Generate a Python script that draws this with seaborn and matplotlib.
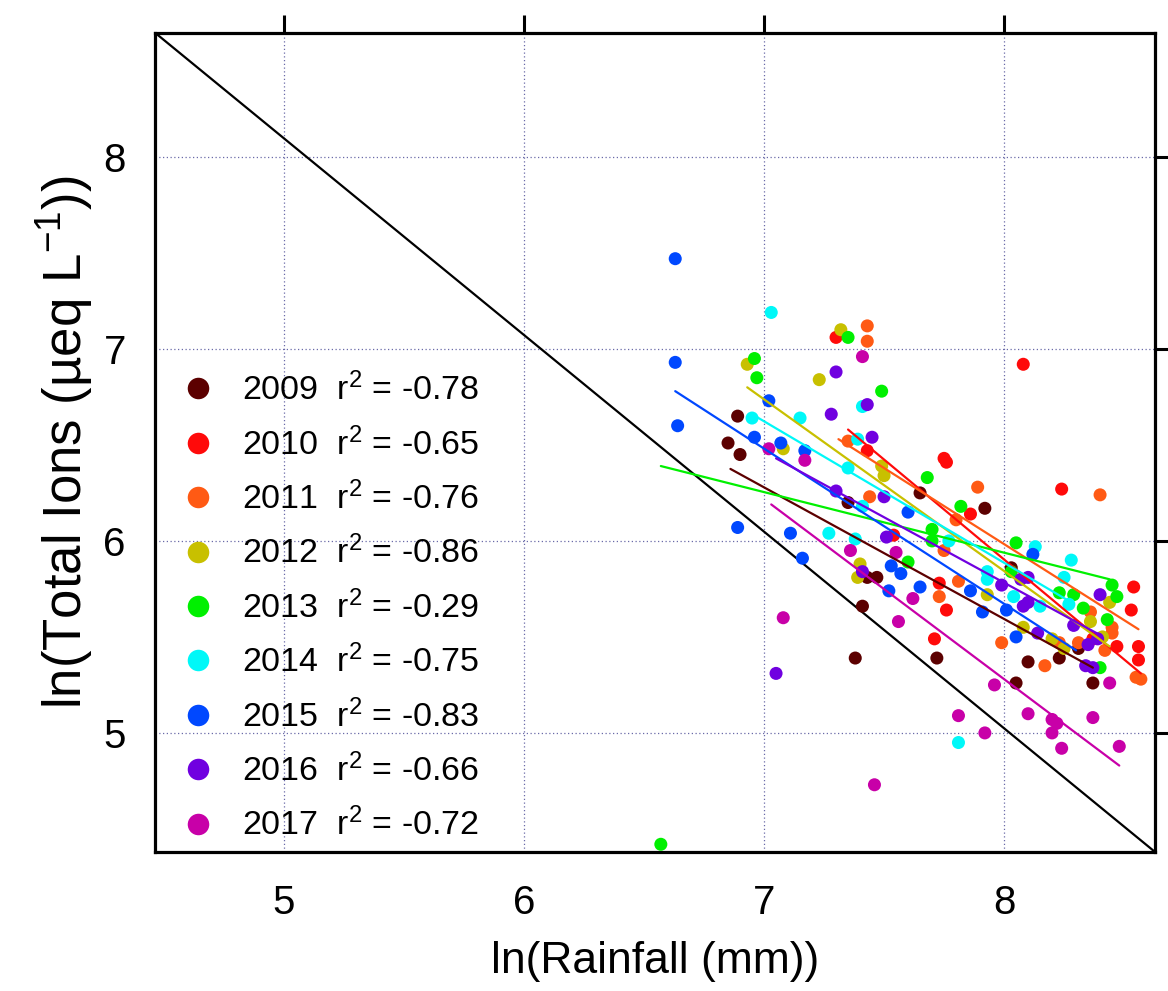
import matplotlib
matplotlib.use("Agg")
import matplotlib.pyplot as plt
import seaborn as sns
import pandas as pd
from matplotlib.lines import Line2D

# ---------------- data ----------------
years = ["2009", "2010", "2011", "2012", "2013", "2014", "2015", "2016", "2017"]
r_values = ["-0.78", "-0.65", "-0.76", "-0.86", "-0.29", "-0.75", "-0.83", "-0.66", "-0.72"]
colors = ["#5c0000", "#ff0a0a", "#ff5a14", "#c8c000", "#00f000", "#00f8f8", "#0048ff", "#7000e0", "#c800a8"]

x_2009 = [6.89, 6.85, 6.90, 7.35, 7.43, 7.47, 7.41, 7.38, 7.65, 7.92, 7.72, 8.05, 8.03, 8.10, 8.23, 8.31, 8.37]
y_2009 = [6.65, 6.51, 6.45, 6.20, 5.81, 5.81, 5.66, 5.39, 6.25, 6.17, 5.39, 5.26, 5.86, 5.37, 5.39, 5.44, 5.26]

x_2010 = [7.30, 7.43, 7.54, 7.75, 7.76, 8.08, 7.86, 8.24, 7.73, 7.76, 7.71, 8.37, 8.47, 8.54, 8.53, 8.56, 8.56]
y_2010 = [7.06, 6.47, 6.03, 6.43, 6.41, 6.92, 6.14, 6.27, 5.78, 5.64, 5.49, 5.49, 5.45, 5.76, 5.64, 5.45, 5.38]

x_2011 = [7.43, 7.43, 7.35, 7.44, 7.89, 8.40, 7.80, 7.75, 7.73, 7.81, 7.99, 8.23, 8.17, 8.36, 8.45, 8.45, 8.31, 8.42, 8.57, 8.55]
y_2011 = [7.12, 7.04, 6.52, 6.23, 6.28, 6.24, 6.11, 5.95, 5.71, 5.79, 5.47, 5.47, 5.35, 5.63, 5.55, 5.52, 5.47, 5.43, 5.28, 5.29]

x_2012 = [7.32, 6.93, 7.23, 7.08, 7.49, 7.50, 7.40, 7.39, 7.93, 8.08, 8.20, 8.25, 8.36, 8.41, 8.44]
y_2012 = [7.10, 6.92, 6.84, 6.48, 6.39, 6.34, 5.88, 5.81, 5.72, 5.55, 5.49, 5.44, 5.58, 5.50, 5.68]

x_2013 = [7.35, 6.96, 6.97, 7.49, 7.68, 7.82, 7.70, 7.70, 7.60, 8.05, 8.03, 8.23, 8.29, 8.33, 8.43, 8.40, 8.45, 8.47, 6.57]
y_2013 = [7.06, 6.95, 6.85, 6.78, 6.33, 6.18, 6.06, 6.00, 5.89, 5.99, 5.84, 5.73, 5.72, 5.65, 5.59, 5.34, 5.77, 5.71, 4.42]

x_2014 = [7.03, 7.41, 6.95, 7.15, 7.39, 7.35, 7.41, 7.27, 7.38, 7.77, 7.93, 7.93, 8.13, 8.04, 8.15, 8.28, 8.25, 8.27, 7.81]
y_2014 = [7.19, 6.70, 6.64, 6.64, 6.53, 6.38, 6.18, 6.04, 6.01, 6.00, 5.80, 5.84, 5.97, 5.71, 5.66, 5.90, 5.81, 5.67, 4.95]

x_2015 = [6.63, 6.63, 6.64, 7.02, 6.96, 7.07, 7.17, 6.89, 7.11, 7.16, 7.53, 7.52, 7.60, 7.57, 7.65, 7.86, 7.91, 8.05, 8.12, 8.01]
y_2015 = [7.47, 6.93, 6.60, 6.73, 6.54, 6.51, 6.47, 6.07, 6.04, 5.91, 5.87, 5.74, 6.15, 5.83, 5.76, 5.74, 5.63, 5.50, 5.93, 5.64]

x_2016 = [7.30, 7.43, 7.28, 7.45, 7.30, 7.50, 7.51, 7.41, 7.05, 7.99, 8.07, 8.10, 8.08, 8.10, 8.14, 8.29, 8.39, 8.35, 8.34, 8.37, 8.40]
y_2016 = [6.88, 6.71, 6.66, 6.54, 6.26, 6.23, 6.02, 5.84, 5.31, 5.77, 5.80, 5.81, 5.66, 5.68, 5.52, 5.56, 5.49, 5.46, 5.35, 5.34, 5.72]

x_2017 = [7.41, 7.02, 7.17, 7.36, 7.55, 7.08, 7.56, 7.62, 7.46, 7.96, 8.44, 7.81, 7.92, 8.10, 8.20, 8.22, 8.20, 8.24, 8.37, 8.48]
y_2017 = [6.96, 6.48, 6.42, 5.95, 5.94, 5.60, 5.58, 5.70, 4.73, 5.25, 5.26, 5.09, 5.00, 5.10, 5.07, 5.05, 5.00, 4.92, 5.08, 4.93]

# fitted line end points
fit_x0 = [6.86, 7.35, 7.31, 6.93, 6.57, 6.95, 6.63, 7.05, 7.03]
fit_y0 = [6.375, 6.58, 6.53, 6.80, 6.39, 6.66, 6.78, 6.43, 6.19]
fit_x1 = [8.37, 8.57, 8.56, 8.44, 8.44, 8.28, 8.30, 8.40, 8.48]
fit_y1 = [5.34, 5.31, 5.54, 5.45, 5.80, 5.68, 5.43, 5.51, 4.83]

x_ticks = [5, 6, 7, 8]
y_ticks = [5, 6, 7, 8]
x_limits = (4.4625, 8.629)
y_limits = (4.38, 8.647)

series_x = [x_2009, x_2010, x_2011, x_2012, x_2013, x_2014, x_2015, x_2016, x_2017]
series_y = [y_2009, y_2010, y_2011, y_2012, y_2013, y_2014, y_2015, y_2016, y_2017]

rows = []
for yr, xs, ys in zip(years, series_x, series_y):
    for a, b in zip(xs, ys):
        rows.append({"year": yr, "rain": a, "ions": b})
df = pd.DataFrame(rows)
palette = dict(zip(years, colors))

# ---------------- style ----------------
sns.set_theme(style="white")
plt.rcParams["font.family"] = ["Liberation Sans", "DejaVu Sans"]
plt.rcParams["text.color"] = "black"
plt.rcParams["axes.labelcolor"] = "black"
plt.rcParams["mathtext.fontset"] = "custom"
plt.rcParams["mathtext.rm"] = "Liberation Sans"
plt.rcParams["mathtext.it"] = "Liberation Sans"
plt.rcParams["mathtext.default"] = "regular"

fig = plt.figure(figsize=(11.68, 9.91), dpi=100)
ax = fig.add_axes([0.1327, 0.1403, 0.8562, 0.8267])

ax.set_xlim(*x_limits)
ax.set_ylim(*y_limits)

ax.grid(True, which="major", color="#6a6aa8", linestyle=(0, (1, 2)), linewidth=0.9)
ax.set_axisbelow(True)

# diagonal reference line across the frame
ax.plot([0, 1], [1, 0], transform=ax.transAxes, color="black", linewidth=1.6, zorder=2)

sns.scatterplot(data=df, x="rain", y="ions", hue="year", palette=palette,
                s=88, linewidth=0, legend=False, ax=ax, zorder=3)

for c, a0, b0, a1, b1 in zip(colors, fit_x0, fit_y0, fit_x1, fit_y1):
    ax.plot([a0, a1], [b0, b1], color=c, linewidth=1.6, zorder=4)

ax.set_xticks(x_ticks)
ax.set_yticks(y_ticks)
ax.tick_params(axis="both", which="major", direction="out", length=13, width=2.2,
               labelsize=29, top=True, right=True, color="black", labelcolor="black")
ax.tick_params(axis="x", pad=10)
ax.tick_params(axis="y", pad=8)
for sp in ax.spines.values():
    sp.set_linewidth(2.3)
    sp.set_color("black")

ax.set_xlabel("ln(Rainfall (mm))", fontsize=32, color="black", labelpad=14)
ax.set_ylabel("ln(Total Ions (µeq L$^{-1}$))", fontsize=38, color="black")
ax.yaxis.set_label_coords(-0.06, 0.50)

handles = [Line2D([], [], linestyle="none", marker="o", markersize=15.5,
                  markerfacecolor=c, markeredgewidth=0) for c in colors]
labels = [f"{yr}  r$^{{2}}$ = {rv}" for yr, rv in zip(years, r_values)]
ax.legend(handles, labels, loc="upper left", bbox_to_anchor=(0.026, 0.585),
          frameon=False, fontsize=24.5, handlelength=1.0, handletextpad=0.8,
          borderpad=0, borderaxespad=0, labelspacing=0.585)

fig.savefig("out.png", dpi=100)
